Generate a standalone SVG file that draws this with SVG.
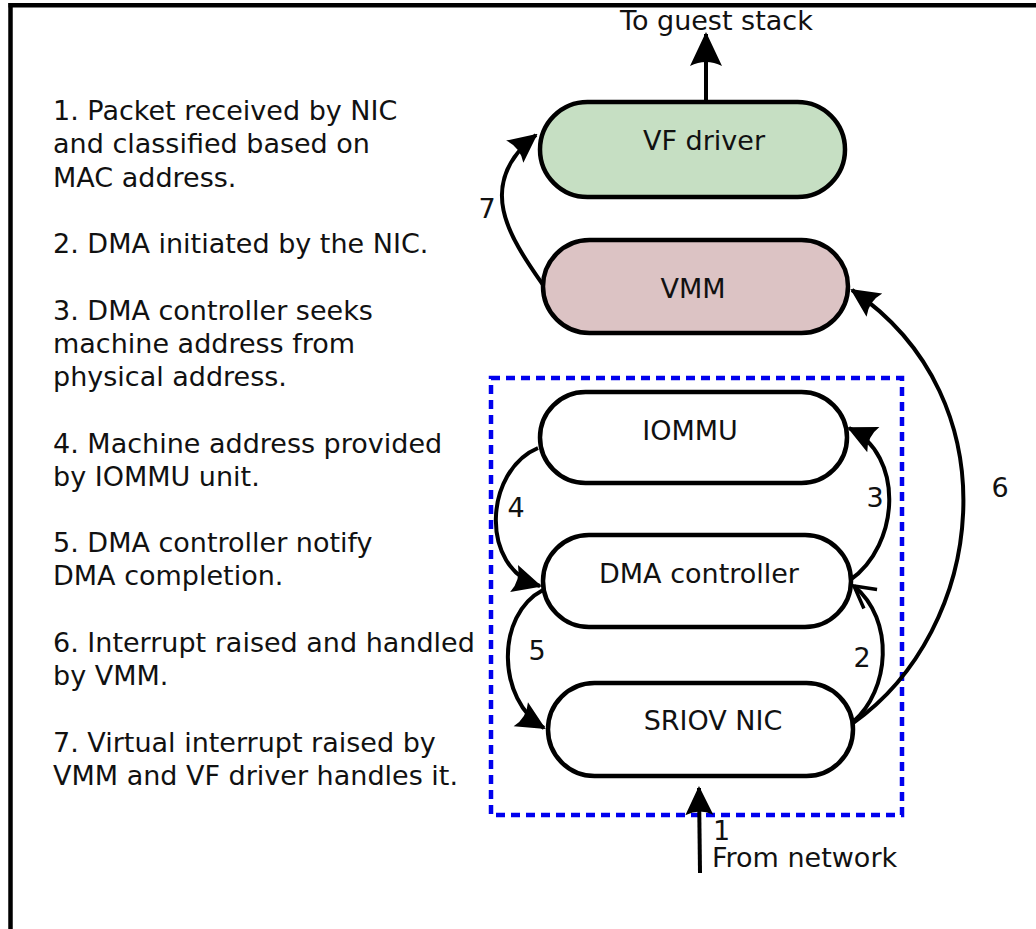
<svg xmlns="http://www.w3.org/2000/svg" width="1036" height="929" viewBox="0 0 1036 929">
<style>
text{font-family:"DejaVu Sans","Liberation Sans",sans-serif;font-size:27px;fill:#111}
.c{text-anchor:middle}
.node{stroke:#000;stroke-width:4.5}
.conn{fill:none;stroke:#000;stroke-width:4}
</style>
<defs>
<marker id="ah" viewBox="-30 -15 32 30" markerWidth="32" markerHeight="30" refX="0" refY="0" orient="auto" markerUnits="userSpaceOnUse">
<path d="M2,0 L-27,-14 Q-20,0 -27,14 Z" fill="#000"/>
</marker>
<marker id="ahL" viewBox="-36 -18 38 36" markerWidth="38" markerHeight="36" refX="0" refY="0" orient="auto" markerUnits="userSpaceOnUse">
<path d="M2,0 L-32,-16 Q-24,0 -32,16 Z" fill="#000"/>
</marker>
<marker id="open" viewBox="-26 -14 30 28" markerWidth="30" markerHeight="28" refX="0" refY="0" orient="auto" markerUnits="userSpaceOnUse">
<path d="M-22,-11 L0,0 L-20,12" fill="none" stroke="#000" stroke-width="3.5"/>
</marker>
</defs>
<rect width="1036" height="929" fill="#fff"/>
<g id="frame" stroke="#000" stroke-width="4.5" fill="none">
<line x1="10.5" y1="3" x2="10.5" y2="929"/>
<line x1="8.5" y1="5.3" x2="1036" y2="5.3"/>
</g>
<g id="steps">
<text x="53" y="120">1. Packet received by NIC</text>
<text x="53" y="153">and classified based on</text>
<text x="53" y="187">MAC address.</text>
<text x="53" y="253">2. DMA initiated by the NIC.</text>
<text x="53" y="320">3. DMA controller seeks</text>
<text x="53" y="353">machine address from</text>
<text x="53" y="386">physical address.</text>
<text x="53" y="453">4. Machine address provided</text>
<text x="53" y="486">by IOMMU unit.</text>
<text x="53" y="552">5. DMA controller notify</text>
<text x="53" y="585">DMA completion.</text>
<text x="53" y="652">6. Interrupt raised and handled</text>
<text x="53" y="685">by VMM.</text>
<text x="53" y="752">7. Virtual interrupt raised by</text>
<text x="53" y="785">VMM and VF driver handles it.</text>
</g>
<g id="sriov-box">
<rect x="491" y="378" width="411" height="437" fill="none" stroke="#0000ee" stroke-width="4.5" stroke-dasharray="9 6"/>
</g>
<g id="vf-driver">
<rect class="node" x="540" y="102" width="305" height="95" rx="47.5" fill="#c6dfc3"/>
<text class="c" x="704" y="150">VF driver</text>
</g>
<g id="vmm">
<rect class="node" x="543" y="240" width="305" height="93" rx="46.5" fill="#dcc3c4"/>
<text class="c" x="693" y="298">VMM</text>
</g>
<g id="iommu">
<rect class="node" x="540" y="392" width="307" height="91" rx="45.5" fill="#fff"/>
<text class="c" x="690" y="440">IOMMU</text>
</g>
<g id="dma-controller">
<rect class="node" x="543" y="535" width="308" height="92" rx="46" fill="#fff"/>
<text class="c" x="699" y="583">DMA controller</text>
</g>
<g id="sriov-nic">
<rect class="node" x="548" y="683" width="305" height="93" rx="46.5" fill="#fff"/>
<text class="c" x="713" y="730">SRIOV NIC</text>
</g>
<g id="connectors">
<path class="conn" d="M706,102 L706,34" marker-end="url(#ahL)"/>
<path class="conn" d="M543,285 C512,240 472,185 536,135" marker-end="url(#ah)"/>
<path class="conn" d="M538,448 C485,470 478,568 540,586" marker-end="url(#ah)"/>
<path class="conn" d="M850,580 C900,545 905,455 849,428" marker-end="url(#ah)"/>
<path class="conn" d="M853,722 C890,690 895,620 854,586" marker-end="url(#open)"/>
<path class="conn" d="M543,590 C495,615 497,700 544,728" marker-end="url(#ah)"/>
<path class="conn" d="M853,723 C985,630 1015,400 852,290" marker-end="url(#ah)"/>
<path class="conn" d="M700,873 L699,788" marker-end="url(#ah)"/>
<text x="620" y="30">To guest stack</text>
<text class="c" x="487" y="218">7</text>
<text class="c" x="516" y="517">4</text>
<text class="c" x="875" y="507">3</text>
<text class="c" x="537" y="660">5</text>
<text class="c" x="862" y="667">2</text>
<text class="c" x="1000" y="497">6</text>
<text x="713" y="840">1</text>
<text x="712" y="867">From network</text>
</g>
</svg>
